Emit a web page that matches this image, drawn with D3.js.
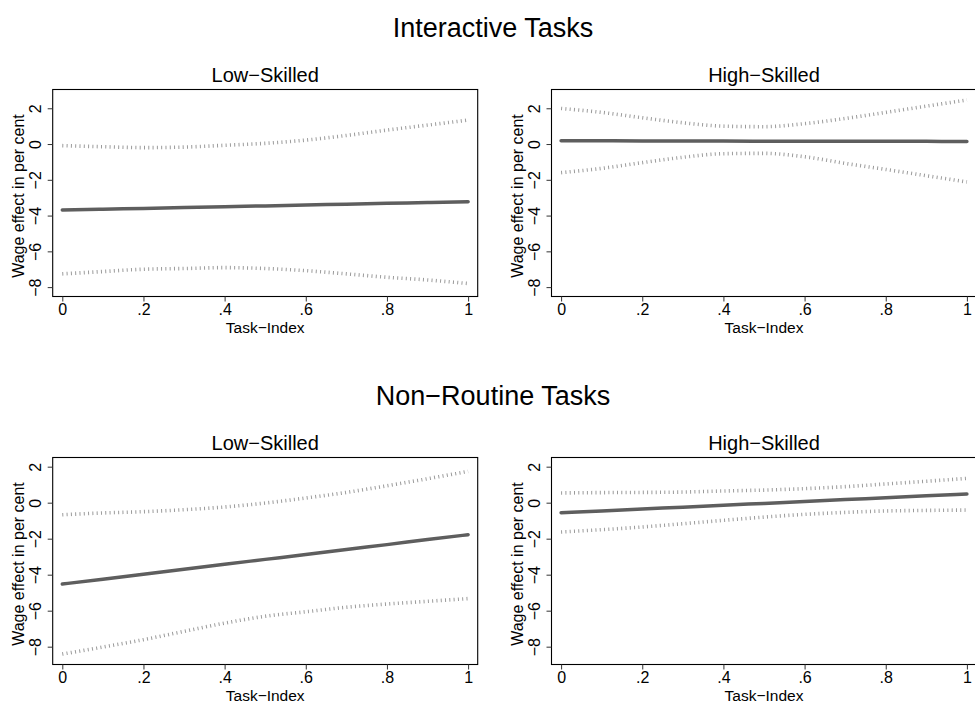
<!DOCTYPE html>
<html>
<head>
<meta charset="utf-8">
<script src="https://cdn.jsdelivr.net/npm/d3@7"></script>
<style>
  html, body { margin: 0; padding: 0; background: #fff; }
  svg { display: block; font-family: "Liberation Sans", Arial, Helvetica, sans-serif; }
</style>
</head>
<body>
<svg id="chart" width="975" height="707"></svg>
<script>
// ---------------- data ----------------
const groupTitles = ["Interactive Tasks", "Non\u2212Routine Tasks"];
const skillTitles = ["Low\u2212Skilled", "High\u2212Skilled"];
const xTitle = "Task\u2212Index";
const yTitle = "Wage effect in per cent";
const xTickValues = [0, 0.2, 0.4, 0.6, 0.8, 1];
const xTickLabels = ["0", ".2", ".4", ".6", ".8", "1"];
const yTickValues = [2, 0, -2, -4, -6, -8];
const yTickLabels = ["2", "0", "\u22122", "\u22124", "\u22126", "\u22128"];
const taskIndex = [0, 0.1, 0.2, 0.3, 0.4, 0.5, 0.6, 0.7, 0.8, 0.9, 1];

// Interactive, low-skilled
const intLowEst   = [-3.69, -3.64, -3.60, -3.55, -3.50, -3.46, -3.41, -3.36, -3.31, -3.27, -3.22];
const intLowUpper = [-0.09, -0.15, -0.20, -0.17, -0.07, 0.04, 0.22, 0.48, 0.78, 1.06, 1.34];
const intLowLower = [-7.26, -7.13, -7.00, -6.96, -6.91, -6.96, -7.08, -7.26, -7.45, -7.60, -7.80];
// Interactive, high-skilled
const intHighEst   = [0.18, 0.18, 0.17, 0.17, 0.17, 0.16, 0.16, 0.16, 0.15, 0.15, 0.14];
const intHighUpper = [1.99, 1.77, 1.47, 1.19, 1.00, 0.97, 1.14, 1.43, 1.77, 2.12, 2.46];
const intHighLower = [-1.60, -1.36, -1.04, -0.74, -0.54, -0.52, -0.71, -1.08, -1.42, -1.77, -2.12];
// Non-routine, low-skilled
const nrLowEst   = [-4.52, -4.25, -3.97, -3.70, -3.42, -3.15, -2.88, -2.60, -2.33, -2.05, -1.78];
const nrLowUpper = [-0.67, -0.57, -0.50, -0.39, -0.24, -0.02, 0.26, 0.57, 0.94, 1.33, 1.74];
const nrLowLower = [-8.41, -8.02, -7.61, -7.15, -6.69, -6.31, -6.06, -5.81, -5.63, -5.48, -5.33];
// Non-routine, high-skilled
const nrHighEst   = [-0.56, -0.46, -0.35, -0.25, -0.14, -0.04, 0.06, 0.17, 0.27, 0.38, 0.48];
const nrHighUpper = [0.54, 0.56, 0.57, 0.59, 0.65, 0.70, 0.78, 0.89, 1.04, 1.19, 1.35];
const nrHighLower = [-1.63, -1.50, -1.35, -1.17, -0.98, -0.80, -0.65, -0.54, -0.46, -0.43, -0.41];

const yDomains = [[-8.525, 3.05], [-8.99, 2.51]];

const panels = [
  { row: 0, col: 0, est: intLowEst,  upper: intLowUpper,  lower: intLowLower },
  { row: 0, col: 1, est: intHighEst, upper: intHighUpper, lower: intHighLower },
  { row: 1, col: 0, est: nrLowEst,   upper: nrLowUpper,   lower: nrLowLower },
  { row: 1, col: 1, est: nrHighEst,  upper: nrHighUpper,  lower: nrHighLower }
];

// ---------------- layout ----------------
const svg = d3.select("#chart");
const frameLeft = [52.7, 551.5];
const frameTop = [89.5, 457.5];
const frameW = 425, frameH = 207;
const xPad = 9.6;
const titleBaseline = [36.7, 404.5];

groupTitles.forEach((t, i) => {
  svg.append("text")
    .attr("x", 493).attr("y", titleBaseline[i])
    .attr("text-anchor", "middle")
    .attr("font-size", 27)
    .attr("fill", "#000")
    .text(t);
});

panels.forEach(p => {
  const L = frameLeft[p.col], T = frameTop[p.row];
  const g = svg.append("g");
  const x = d3.scaleLinear().domain([0, 1]).range([L + xPad, L + frameW - xPad]);
  const y = d3.scaleLinear().domain(yDomains[p.row]).range([T + frameH, T]);

  // subtitle
  g.append("text")
    .attr("x", L + frameW / 2).attr("y", T - 8)
    .attr("text-anchor", "middle")
    .attr("font-size", 20)
    .attr("fill", "#000")
    .text(skillTitles[p.col]);

  // clip
  const clipId = `clip-${p.row}-${p.col}`;
  svg.append("clipPath").attr("id", clipId)
    .append("rect").attr("x", L).attr("y", T).attr("width", frameW).attr("height", frameH);

  const plot = g.append("g").attr("clip-path", `url(#${clipId})`);
  const line = arr => d3.line()
    .x((d, i) => x(taskIndex[i]))
    .y(d => y(d))
    .curve(d3.curveMonotoneX)(arr);

  [p.upper, p.lower].forEach(band => {
    plot.append("path")
      .attr("d", line(band))
      .attr("fill", "none")
      .attr("stroke", "#9a9a9a")
      .attr("stroke-width", 3.6)
      .attr("stroke-dasharray", "1 3.3");
  });
  plot.append("path")
    .attr("d", line(p.est))
    .attr("fill", "none")
    .attr("stroke", "#5e5e5e")
    .attr("stroke-width", 3.5)
    .attr("stroke-linecap", "round");

  // frame
  g.append("rect")
    .attr("x", L).attr("y", T).attr("width", frameW).attr("height", frameH)
    .attr("fill", "none").attr("stroke", "#000").attr("stroke-width", 1.1);

  // x axis
  const xAxis = d3.axisBottom(x).tickValues(xTickValues)
    .tickFormat((d, i) => xTickLabels[i]).tickSize(5).tickPadding(2);
  const xg = g.append("g").attr("transform", `translate(0,${T + frameH})`).call(xAxis);
  xg.select(".domain").remove();
  xg.selectAll(".tick line").attr("stroke", "#333");
  xg.selectAll(".tick text").attr("font-size", 16).attr("fill", "#000")
    .attr("font-family", "Liberation Sans, Arial, sans-serif");

  // y axis
  const yAxis = d3.axisLeft(y).tickValues(yTickValues)
    .tickFormat((d, i) => yTickLabels[i]).tickSize(5);
  const yg = g.append("g").attr("transform", `translate(${L},0)`).call(yAxis);
  yg.select(".domain").remove();
  yg.selectAll(".tick line").attr("stroke", "#333");
  yg.selectAll(".tick text")
    .attr("font-size", 16).attr("fill", "#000")
    .attr("font-family", "Liberation Sans, Arial, sans-serif")
    .attr("x", null).attr("dy", null)
    .attr("text-anchor", "middle")
    .attr("transform", "translate(-12,0) rotate(-90)");

  // axis titles
  g.append("text")
    .attr("x", L + frameW / 2).attr("y", T + frameH + 36)
    .attr("text-anchor", "middle")
    .attr("font-size", 15.5).attr("fill", "#000")
    .text(xTitle);
  g.append("text")
    .attr("transform", `translate(${L - 29},${T + frameH / 2 + 3}) rotate(-90)`)
    .attr("text-anchor", "middle")
    .attr("font-size", 16).attr("fill", "#000")
    .text(yTitle);
});
</script>
</body>
</html>
